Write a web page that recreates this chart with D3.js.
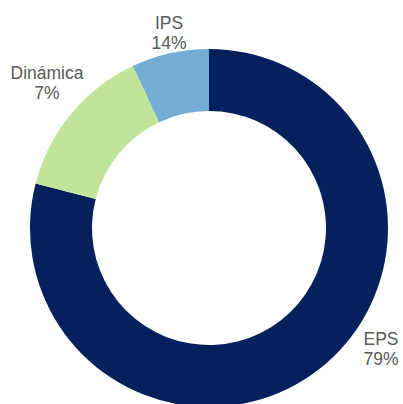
<!DOCTYPE html>
<html>
<head>
<meta charset="utf-8">
<script src="https://cdn.jsdelivr.net/npm/d3@7"></script>
<style>
  body { margin: 0; background: #fff; }
</style>
</head>
<body>
<div id="canvas"></div>
<script>
// slices drawn clockwise from the top
const categories = ["EPS", "Dinámica", "IPS"];
const sliceValues = [79, 14, 7];
// percentage labels as printed on the chart
const pctLabels = ["79%", "7%", "14%"];
const colors = ["#04215d", "#c1e598", "#74add3"];
// label anchor positions (text centre, first line baseline)
const labelPos = [[381, 345], [47, 79], [169, 29]];

const width = 403, height = 404;
const cx = 209, cy = 228;
const outerR = 179, innerR = 117;

const svg = d3.select("#canvas").append("svg")
    .attr("width", width)
    .attr("height", height);

const g = svg.append("g")
    .attr("transform", "translate(" + cx + "," + cy + ")");

const pie = d3.pie().sort(null).value(d => d);
const arc = d3.arc().innerRadius(innerR).outerRadius(outerR);

g.selectAll("path")
    .data(pie(sliceValues))
    .enter().append("path")
    .attr("d", arc)
    .attr("fill", (d, i) => colors[i]);

// labels
const labels = svg.selectAll(".lbl")
    .data(categories)
    .enter().append("text")
    .attr("class", "lbl")
    .attr("x", (d, i) => labelPos[i][0])
    .attr("y", (d, i) => labelPos[i][1])
    .attr("text-anchor", "middle")
    .attr("font-family", "Liberation Sans, Arial, sans-serif")
    .attr("font-size", "17.5px")
    .attr("fill", "#595959");

labels.append("tspan")
    .attr("x", (d, i) => labelPos[i][0])
    .text(d => d);
labels.append("tspan")
    .attr("x", (d, i) => labelPos[i][0])
    .attr("dy", 20)
    .text((d, i) => pctLabels[i]);
</script>
</body>
</html>
